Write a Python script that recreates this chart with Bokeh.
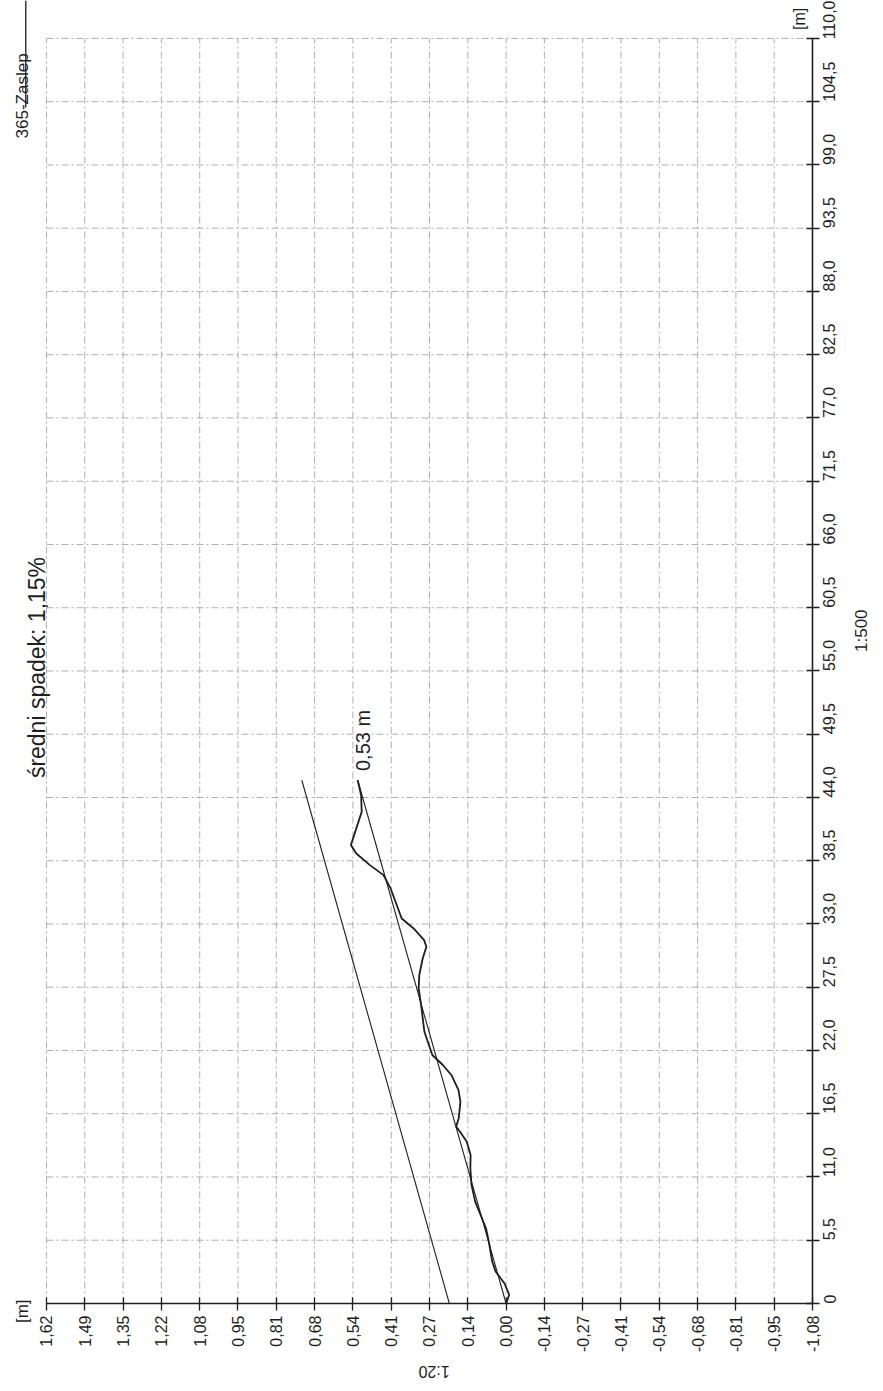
import math
from bokeh.plotting import figure
from bokeh.models import (Range1d, FixedTicker, CustomJSTickFormatter, Label, Div, LinearAxis)
from bokeh.layouts import column
from bokeh.embed import file_html
from bokeh.resources import INLINE

# ---- axis ticks / labels ----
elev_ticks = [1.62, 1.485, 1.35, 1.215, 1.08, 0.945, 0.81, 0.675, 0.54, 0.405, 0.27,
              0.135, 0.0, -0.135, -0.27, -0.405, -0.54, -0.675, -0.81, -0.945, -1.08]
elev_labels = ["1,62", "1,49", "1,35", "1,22", "1,08", "0,95", "0,81", "0,68", "0,54", "0,41", "0,27",
               "0,14", "0,00", "-0,14", "-0,27", "-0,41", "-0,54", "-0,68", "-0,81", "-0,95", "-1,08"]
dist_ticks = [0, 5.5, 11.0, 16.5, 22.0, 27.5, 33.0, 38.5, 44.0, 49.5, 55.0,
              60.5, 66.0, 71.5, 77.0, 82.5, 88.0, 93.5, 99.0, 104.5, 110.0]
dist_labels = ["0", "5,5", "11,0", "16,5", "22,0", "27,5", "33,0", "38,5", "44,0", "49,5", "55,0",
               "60,5", "66,0", "71,5", "77,0", "82,5", "88,0", "93,5", "99,0", "104,5", "110,0"]

# ---- measured profile (distance [m], elevation [m]) ----
profile_dist = [0.0, 0.76, 1.76, 2.78, 3.65, 5.39, 6.54, 7.71, 8.86, 10.31, 11.76, 12.92,
                14.08, 14.95, 15.38, 16.10, 17.55, 18.57, 19.87, 20.74, 21.61, 23.63, 25.66,
                27.40, 28.56, 30.00, 31.02, 31.60, 32.61, 33.48, 34.35, 36.09, 37.25, 38.12,
                39.13, 39.86, 42.75, 44.20, 45.50]
profile_elev = [0.000, -0.011, 0.006, 0.037, 0.049, 0.061, 0.071, 0.090, 0.109, 0.122, 0.126, 0.125,
                0.139, 0.163, 0.176, 0.167, 0.161, 0.168, 0.193, 0.223, 0.260, 0.288, 0.298,
                0.308, 0.306, 0.294, 0.281, 0.289, 0.326, 0.368, 0.381, 0.407, 0.432, 0.480,
                0.528, 0.547, 0.509, 0.511, 0.523]

# ---- mean slope line and parallel reference line ----
trend_dist = [0.0, 45.5]
trend_elev = [0.0, 0.523]
upper_dist = [0.0, 45.5]
upper_elev = [0.20, 0.72]

title_text = "średni spadek: 1,15%"
end_text = "0,53 m"
x_scale_text = "1:500"
y_scale_text = "1:20"
unit_text = "[m]"
corner_text = "365-Zaslep"

# side captions at the left edge (distance positions)
side_ticks = [0.35, 108.7]
side_labels = [unit_text, corner_text]

INK = "#1e1e1e"
FONT = "Liberation Sans"

p = figure(frame_width=788, frame_height=1303,
           x_range=Range1d(1.6975, -1.08), y_range=Range1d(0, 113.3),
           x_axis_location="below", y_axis_location="right",
           toolbar_location=None, output_backend="svg", title=None,
           min_border_left=24, min_border_right=70, min_border_top=0, min_border_bottom=77)
p.outline_line_color = None
p.background_fill_color = "white"
p.border_fill_color = "white"
p.xgrid.visible = False
p.ygrid.visible = False

js = """
let best = 0;
for (let i = 0; i < vals.length; i++) {
  if (Math.abs(vals[i] - tick) < Math.abs(vals[best] - tick)) best = i;
}
return labs[best];
"""
p.xaxis.ticker = FixedTicker(ticks=elev_ticks)
p.xaxis.formatter = CustomJSTickFormatter(args=dict(vals=elev_ticks, labs=elev_labels), code=js)
p.xaxis.bounds = (elev_ticks[-1], elev_ticks[0])
p.yaxis.ticker = FixedTicker(ticks=dist_ticks)
p.yaxis.formatter = CustomJSTickFormatter(args=dict(vals=dist_ticks, labs=dist_labels), code=js)
p.yaxis.bounds = (dist_ticks[0], dist_ticks[-1])

for ax in (p.xaxis, p.yaxis):
    ax.major_label_orientation = math.pi / 2
    ax.axis_line_color = INK
    ax.axis_line_width = 1.6
    ax.major_tick_line_color = INK
    ax.major_tick_line_width = 1.3
    ax.major_tick_in = 6
    ax.major_tick_out = 7
    ax.minor_tick_line_color = None
    ax.major_label_text_font = FONT
    ax.major_label_text_font_size = "16px"
    ax.major_label_text_color = INK
    ax.axis_label_text_font = FONT
    ax.axis_label_text_font_style = "normal"
    ax.axis_label_text_color = INK

p.xaxis.major_label_standoff = 5
p.yaxis.major_label_standoff = 10
p.xaxis.axis_label = y_scale_text
p.yaxis.axis_label = x_scale_text
p.xaxis.axis_label_text_font_size = "16px"
p.yaxis.axis_label_text_font_size = "17px"
p.xaxis.axis_label_standoff = 17
p.yaxis.axis_label_standoff = 17
try:
    p.xaxis.axis_label_orientation = math.pi
    p.yaxis.axis_label_orientation = math.pi / 2
except Exception:
    pass

# left-edge captions ("[m]" and "365-Zaslep") drawn as labels of a bare axis
side = LinearAxis(ticker=FixedTicker(ticks=side_ticks),
                  formatter=CustomJSTickFormatter(args=dict(vals=side_ticks, labs=side_labels), code=js))
side.axis_line_color = None
side.major_tick_line_color = None
side.minor_tick_line_color = None
side.major_tick_in = 0
side.major_tick_out = 0
side.major_label_orientation = math.pi / 2
side.major_label_standoff = 2
side.major_label_text_font = FONT
side.major_label_text_font_size = "17px"
side.major_label_text_color = INK
p.add_layout(side, "left")

# grid (dashed) limited to the axes' extent
GRID = dict(line_color="#a6a6a6", line_width=1, line_dash="7 3 2 3", line_alpha=0.9)
p.segment(x0=elev_ticks, x1=elev_ticks, y0=dist_ticks[0], y1=dist_ticks[-1], **GRID)
p.segment(x0=elev_ticks[0], x1=elev_ticks[-1], y0=dist_ticks, y1=dist_ticks, **GRID)

p.line(x=upper_elev, y=upper_dist, line_color=INK, line_width=1.1)
p.line(x=trend_elev, y=trend_dist, line_color=INK, line_width=1.1)
p.line(x=profile_elev, y=profile_dist, line_color=INK, line_width=1.8)

# underline of the corner caption
p.segment(x0=[1.693], x1=[1.693], y0=[104.0], y1=[113.3], line_color=INK, line_width=1.3)

def lab(text, x, y, angle, size, align="center", baseline="middle"):
    p.add_layout(Label(x=x, y=y, text=text, angle=angle, text_font=FONT,
                       text_font_size=size, text_color=INK, text_align=align,
                       text_baseline=baseline))

lab(title_text, 1.655, 55.3, math.pi / 2, "23px")
lab(end_text, 0.505, 46.3, math.pi / 2, "20px", align="left")
lab(unit_text, -1.035, 111.7, math.pi / 2, "16px")

edge = Div(text="", width=882, height=5, margin=(0, 0, 0, 0),
           styles={"background-color": "#2a2a2a"})

layout = column(p, edge, spacing=0)
open("out.html", "w").write(file_html(layout, INLINE))
